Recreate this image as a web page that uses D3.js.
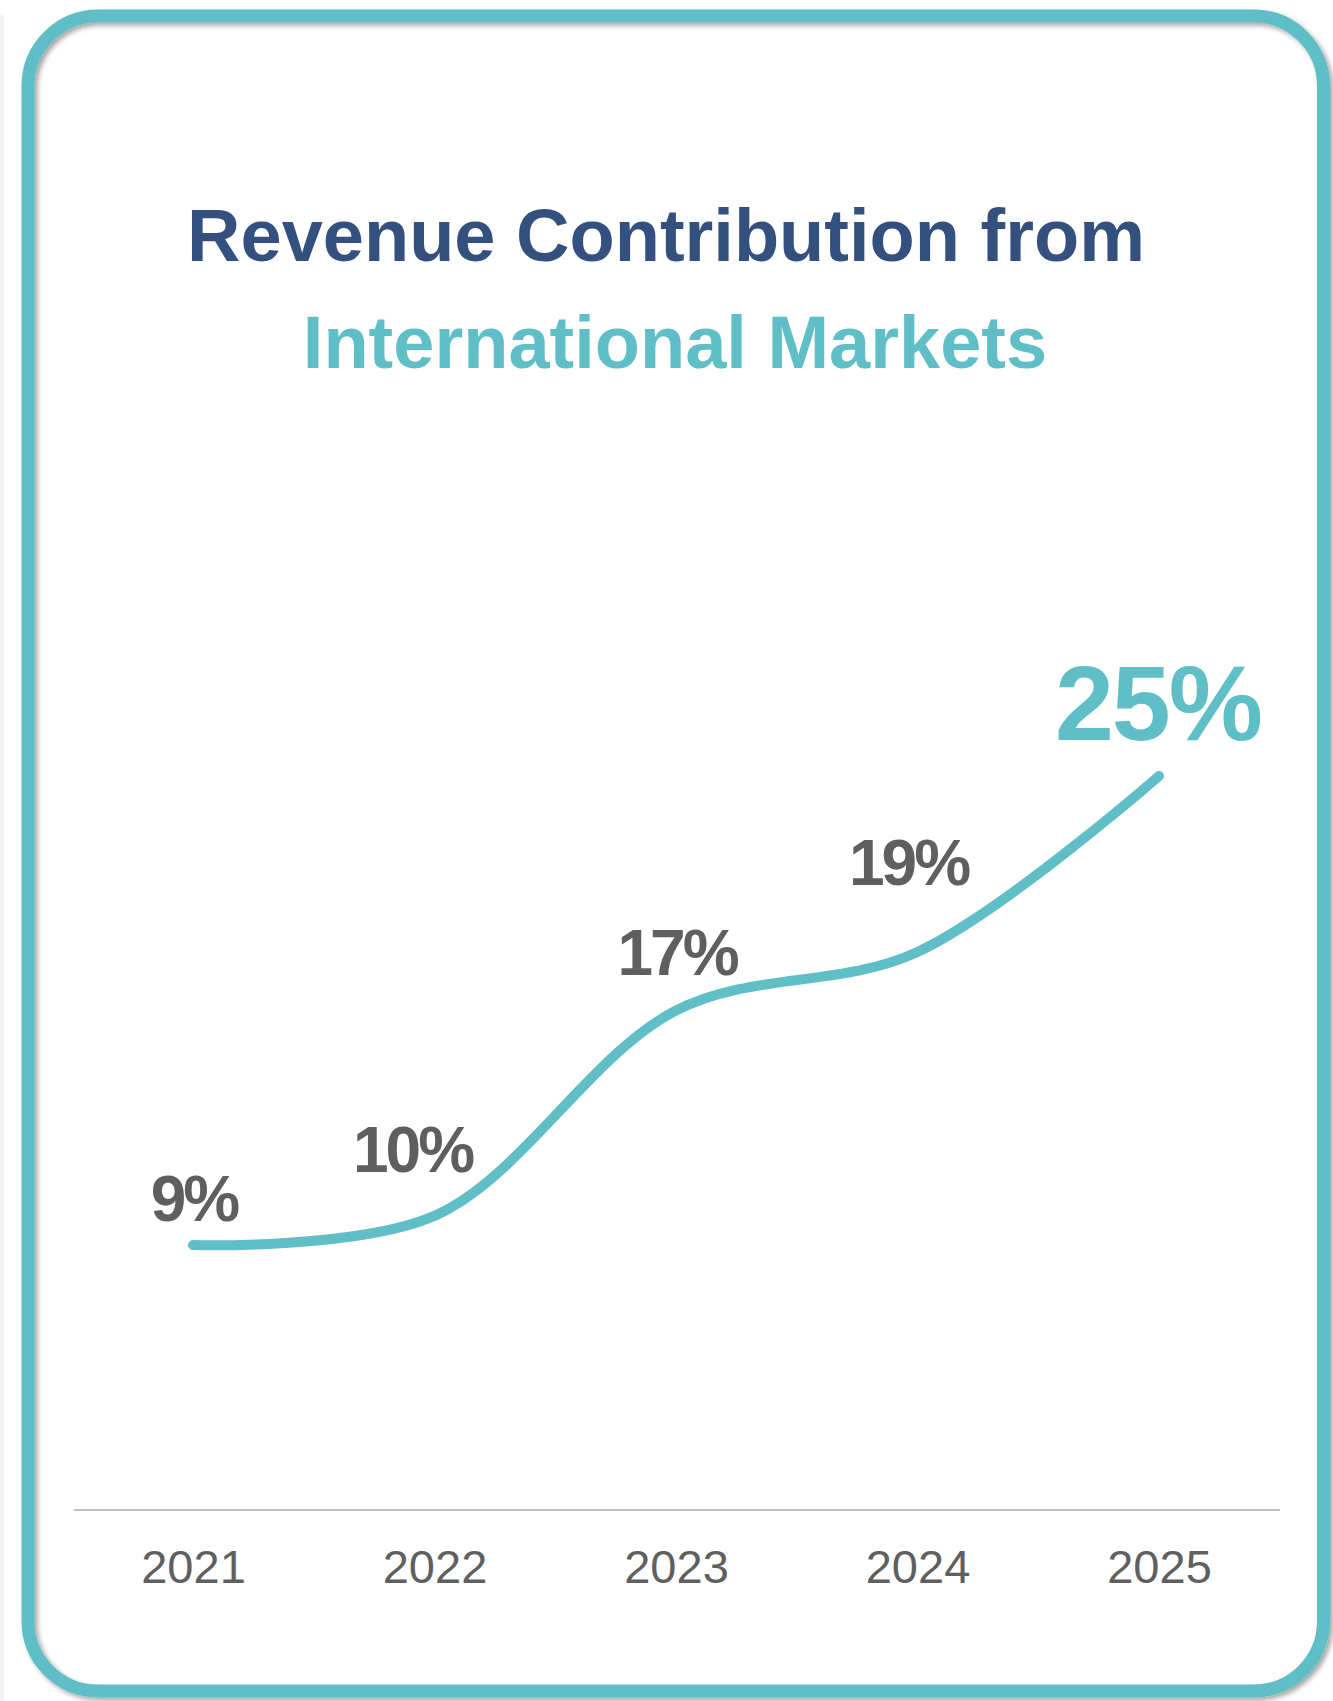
<!DOCTYPE html>
<html>
<head>
<meta charset="utf-8">
<script src="https://cdn.jsdelivr.net/npm/d3@7"></script>
<style>
  html, body { margin: 0; padding: 0; background: #ffffff; }
  svg { display: block; }
  text { font-family: "Liberation Sans", Arial, Helvetica, sans-serif; }
</style>
</head>
<body>
<div id="chart"></div>
<script>
// ---- data ----
const years = ["2021", "2022", "2023", "2024", "2025"];
const shares = [9, 10, 17, 19, 25];
const shareLabels = ["9%", "10%", "17%", "19%", "25%"];
const titleLine1 = "Revenue Contribution from";
const titleLine2 = "International Markets";

// ---- presentation ----
const W = 1333, H = 1701;
const teal = "#5fbec6", navy = "#34507f", grey = "#5f5f5f";
const labelNudge = [[1, -24], [-22, -44], [1, -36], [-9, -67], [-1, -36]];

const svg = d3.select("#chart").append("svg")
  .attr("width", W).attr("height", H);

const defs = svg.append("defs");
const f = defs.append("filter").attr("id", "shadow")
  .attr("x", "-5%").attr("y", "-5%").attr("width", "110%").attr("height", "110%");
f.append("feDropShadow").attr("dx", 3).attr("dy", 3)
  .attr("stdDeviation", 2.5).attr("flood-color", "#000").attr("flood-opacity", 0.35);

svg.append("rect").attr("x", 0).attr("y", 0).attr("width", W).attr("height", H).attr("fill", "#fff");
svg.append("rect").attr("x", 0).attr("y", 14).attr("width", 4).attr("height", H - 14).attr("fill", "#f3f3f3");

// card border
svg.append("rect")
  .attr("x", 28).attr("y", 16)
  .attr("width", 1323.5 - 28).attr("height", 1691 - 16)
  .attr("rx", 70).attr("ry", 70)
  .attr("fill", "none")
  .attr("stroke", teal).attr("stroke-width", 13)
  .attr("filter", "url(#shadow)");

// title
svg.append("text").attr("x", 666).attr("y", 261)
  .attr("text-anchor", "middle").attr("font-size", 74).attr("font-weight", "bold")
  .attr("fill", navy).text(titleLine1);
svg.append("text").attr("x", 675).attr("y", 368)
  .attr("text-anchor", "middle").attr("font-size", 74).attr("font-weight", "bold")
  .attr("fill", teal).text(titleLine2);

// scales
const x = d3.scalePoint().domain(years).range([193, 1159]);
const y = d3.scaleLinear().domain([0, 25]).range([1509, 776]);

// baseline
svg.append("line").attr("x1", 74).attr("x2", 1280).attr("y1", 1510).attr("y2", 1510)
  .attr("stroke", "#c0c0c0").attr("stroke-width", 2);

// x axis
const ax = svg.append("g").attr("transform", "translate(0,1510)")
  .call(d3.axisBottom(x).tickSize(0).tickSizeOuter(0));
ax.select(".domain").remove();
ax.selectAll("text")
  .attr("y", 73).attr("dy", 0)
  .attr("font-size", 47).attr("fill", grey)
  .style("font-family", '"Liberation Sans", Arial, sans-serif');

// line
const pts = years.map((yr, i) => ({ yr, v: shares[i], label: shareLabels[i], i }));
const line = d3.line().x(d => x(d.yr)).y(d => y(d.v)).curve(d3.curveCatmullRom.alpha(0.5));
svg.append("path").datum(pts)
  .attr("d", line)
  .attr("fill", "none").attr("stroke", teal)
  .attr("stroke-width", 10).attr("stroke-linecap", "round").attr("stroke-linejoin", "round");

// value labels
svg.selectAll("text.val").data(pts).enter().append("text")
  .attr("class", "val")
  .attr("x", d => x(d.yr) + labelNudge[d.i][0])
  .attr("y", d => y(d.v) + labelNudge[d.i][1])
  .attr("text-anchor", "middle")
  .attr("font-weight", "bold")
  .attr("font-size", d => d.i === pts.length - 1 ? 106 : 64)
  .attr("letter-spacing", d => d.i === pts.length - 1 ? -2 : -3)
  .attr("fill", d => d.i === pts.length - 1 ? teal : grey)
  .text(d => d.label);
</script>
</body>
</html>
